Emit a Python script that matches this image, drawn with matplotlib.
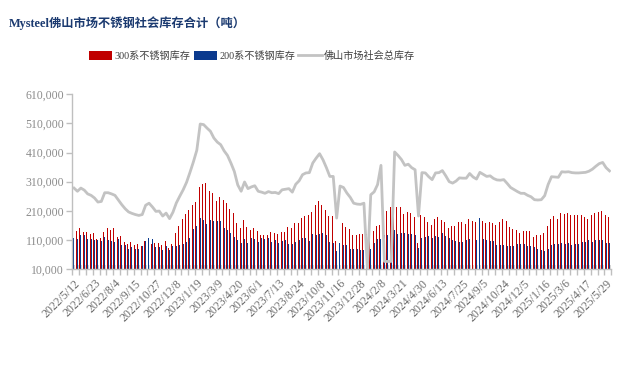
import numpy as np
import matplotlib
matplotlib.use("Agg")
import matplotlib.pyplot as plt
from matplotlib.patches import Patch
from matplotlib.lines import Line2D
from matplotlib.ticker import FuncFormatter

plt.rcParams['font.family'] = ['Liberation Serif', 'Noto Sans CJK SC']

# ---- data (thousand tonnes), weekly, 158 points ----
tick_labels = ['2022/5/12', '2022/6/23', '2022/8/4', '2022/9/15', '2022/10/27', '2022/12/8',
               '2023/1/19', '2023/3/9', '2023/4/20', '2023/6/1', '2023/7/13', '2023/8/24',
               '2023/10/8', '2023/11/16', '2023/12/28', '2024/2/8', '2024/3/21', '2024/4/30',
               '2024/6/13', '2024/7/25', '2024/9/5', '2024/10/24', '2024/12/5', '2025/1/16',
               '2025/3/6', '2025/4/17', '2025/5/29']

s300 = [147, 142, 151, 137, 137, 130, 134, 113, 116, 137, 151, 144, 151, 120, 123, 103, 96, 103, 92, 96,
        89, 106, 99, 96, 99, 99, 92, 106, 82, 96, 134, 158, 182, 199, 213, 230, 240, 292, 302, 305,
        278, 271, 244, 257, 247, 237, 216, 202, 168, 151, 178, 154, 144, 151, 140, 127, 127, 127, 137, 134,
        130, 137, 137, 154, 151, 168, 168, 185, 192, 195, 206, 230, 244, 230, 213, 192, 192, 106, 168, 168,
        154, 147, 127, 127, 130, 130, 130, 144, 140, 158, 161, 199, 209, 223, 237, 223, 223, 199, 206, 202,
        189, 99, 195, 189, 171, 161, 182, 189, 178, 171, 151, 158, 158, 171, 171, 165, 182, 175, 171, np.nan,
        175, 168, 171, 168, 161, 171, 182, 175, 154, 147, 144, 134, 140, 140, 140, 120, 127, 127, 134, 158,
        182, 192, 182, 202, 199, 202, 195, 195, 195, 195, 189, 182, 195, 202, 206, 209, 195, 189]

s200 = [116, 113, 127, 127, 113, 113, 110, 110, 106, 120, 110, 106, 103, 113, 92, 92, 79, 86, 79, 79,
        89, 106, 116, 113, 86, 86, 75, 89, 75, 89, 89, 92, 96, 103, 116, 147, 158, 185, 178, 165,
        178, 175, 175, 175, 151, 144, 134, 120, 110, 99, 113, 99, 117, 113, 103, 116, 113, 116, 103, 110,
        99, 106, 110, 96, 96, 103, 110, 116, 116, 106, 130, 127, 130, 134, 127, 103, 100, 72, 99, 92,
        92, 79, 79, 79, 75, 75, 20, 79, 99, 113, 113, 127, 127, 137, 144, 130, 134, 134, 130, 130,
        128, 82, 116, 120, 123, 116, 123, 120, 134, 123, 116, 110, 106, 103, 103, 110, 113, 113, 110, 185,
        113, 110, 106, 106, 92, 92, 92, 89, 89, 89, 96, 96, 96, 89, 89, 86, 79, 75, 72, 79,
        92, 96, 96, 99, 96, 99, 92, 96, 96, 103, 103, 110, 103, 110, 110, 110, 99, 99]

s400 = [23, 23, 23, 23, 23, 23, 23, 23, 23, 23, 23, 23, 23, 23, 23, 23, 23, 23, 23, 23,
        23, 23, 23, 23, 23, 23, 23, 23, 23, 23, 23, 23, 23, 23, 23, 23, 23, 23, 23, 23,
        23, 23, 23, 23, 23, 23, 23, 23, 23, 23, 23, 23, 23, 23, 23, 23, 23, 23, 23, 23,
        23, 23, 23, 23, 23, 23, 23, 23, 23, 23, 23, 23, 23, 23, 23, 23, 23, 23, 23, 23,
        23, 23, 23, 23, 23, 23, 23, 23, 23, 23, 23, 23, 23, 23, 23, 23, 23, 23, 23, 23,
        23, 23, 23, 23, 23, 23, 23, 23, 23, 23, 23, 23, 23, 23, 23, 23, 23, 23, 23, 23,
        23, 23, 23, 23, 23, 23, 23, 23, 23, 23, 23, 23, 23, 23, 23, 23, 23, 23, 23, 23,
        23, 23, 23, 23, 23, 23, 23, 23, 23, 23, 23, 23, 23, 23, 23, 23, 23, 23]

total = [288, 277, 288, 281, 268, 263, 254, 240, 242, 272, 272, 268, 263, 247, 231, 217, 206, 201, 197, 194,
         197, 229, 236, 223, 208, 209, 192, 202, 183, 205, 237, 260, 282, 308, 342, 378, 418, 508, 506, 494,
         483, 460, 446, 437, 416, 400, 374, 345, 299, 277, 309, 286, 292, 296, 277, 274, 270, 276, 272, 273,
         269, 282, 284, 286, 274, 301, 313, 334, 340, 341, 374, 391, 406, 385, 358, 328, 328, 185, 295, 290,
         271, 256, 236, 233, 232, 236, 13, 265, 275, 300, 366, 36, 36, 36, 412, 400, 386, 366, 370, 358,
         351, 192, 341, 340, 327, 317, 340, 341, 348, 330, 310, 305, 312, 323, 322, 322, 338, 326, 319, 342,
         335, 328, 330, 321, 316, 315, 317, 304, 290, 283, 276, 270, 270, 263, 258, 248, 247, 248, 262, 300,
         327, 326, 325, 344, 343, 344, 341, 340, 340, 341, 342, 346, 353, 363, 372, 376, 358, 347]

names = ['300系不锈钢库存', '200系不锈钢库存', '佛山市场社会总库存']
title = 'Mysteel佛山市场不锈钢社会库存合计（吨）'

# ---- styling ----
c300 = '#C00000'
c200 = '#0B3A8E'
c400 = '#D6D6D6'
cline = '#C3C3C3'
axis_col = '#BFBFBF'

n = len(total)
x = np.arange(n)
k = 1000.0
v300 = np.array(s300, dtype=float) * k
v200 = np.array(s200, dtype=float) * k
v400 = np.array(s400, dtype=float) * k
vtot = np.array(total, dtype=float) * k

fig = plt.figure(figsize=(6.4, 3.67), dpi=100)
ax = fig.add_axes([0.113, 0.267, 0.842, 0.476])

bw = 0.29
ax.bar(x - 0.31, v300, width=bw, color=c300, linewidth=0, zorder=2)
ax.bar(x - 0.02, v200, width=bw, color=c200, linewidth=0, zorder=2)
ax.bar(x + 0.27, v400, width=bw, color=c400, linewidth=0, zorder=2)
ax.plot(x, vtot, color=cline, linewidth=2.0, zorder=3, solid_joinstyle='round')

ax.set_xlim(-0.5, n - 0.5)
ax.set_ylim(10000, 610000)
ax.set_yticks(np.arange(10000, 610001, 100000))
ax.yaxis.set_major_formatter(FuncFormatter(lambda v, p: f'{int(v):,}'))

for s in ['top', 'right']:
    ax.spines[s].set_visible(False)
for s in ['left', 'bottom']:
    ax.spines[s].set_color(axis_col)
    ax.spines[s].set_linewidth(1.0)

ax.tick_params(axis='y', colors=axis_col, length=4, width=1, labelsize=8.5, labelcolor='#8C8C8C', pad=2)

lab_pos = x[::6][:len(tick_labels)]
ax.set_xticks(lab_pos)
ax.set_xticklabels(tick_labels, rotation=45, ha='right', va='top', rotation_mode='anchor',
                   fontsize=8.5, color='#6B6B6B')
ax.tick_params(axis='x', which='major', length=0, pad=6)
ax.set_xticks(np.arange(-0.5, n, 2), minor=True)
ax.tick_params(axis='x', which='minor', length=4, width=1, color=axis_col)

fig.text(0.014, 0.938, title, fontsize=8.8, fontweight='bold', color='#1B3A70', ha='left', va='center')

handles = [Patch(facecolor=c300, edgecolor='none'),
           Patch(facecolor=c200, edgecolor='none'),
           Line2D([0], [0], color=cline, linewidth=2)]
fig.legend(handles, names, loc='center', bbox_to_anchor=(0.394, 0.847), ncol=3, frameon=False,
           fontsize=7.3, handlelength=2.3, handleheight=0.9, handletextpad=0.25, columnspacing=0.3,
           labelcolor='#404040')

fig.savefig('out.png', dpi=100)
